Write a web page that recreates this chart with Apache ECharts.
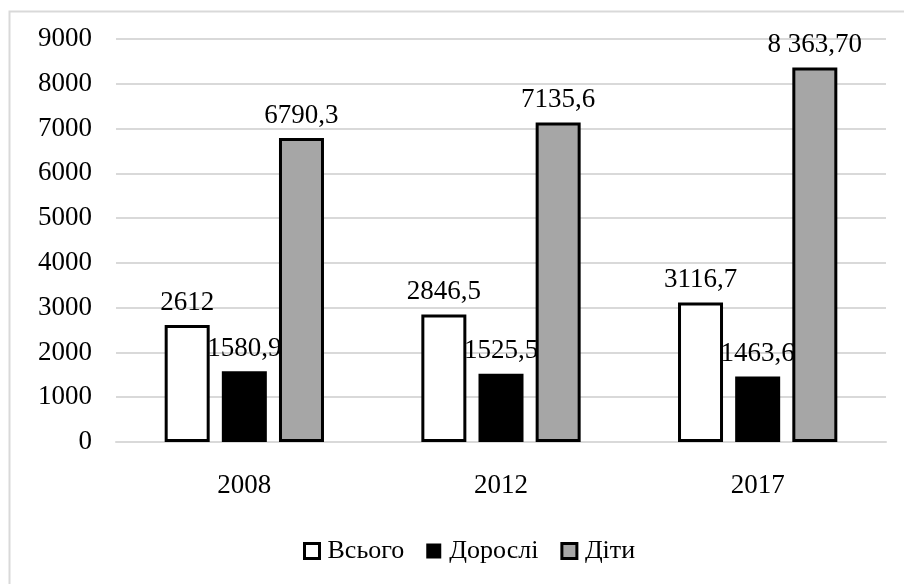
<!DOCTYPE html>
<html>
<head>
<meta charset="utf-8">
<script src="https://cdn.jsdelivr.net/npm/echarts@6/dist/echarts.min.js"></script>
<style>
  html, body { margin: 0; padding: 0; background: #fff; }
  #chart { width: 904px; height: 584px; }
</style>
</head>
<body>
<div id="chart"></div>
<script>
// Categories (years) and values for each group
const years = ['2008', '2012', '2017'];
const seriesNames = ['Всього', 'Дорослі', 'Діти'];
const totalValues = [2612, 2846.5, 3116.7];
const adultValues = [1580.9, 1525.5, 1463.6];
const childValues = [6790.3, 7135.6, 8363.7];
// Value labels as they are printed above the bars
const totalLabels = ['2612', '2846,5', '3116,7'];
const adultLabels = ['1580,9', '1525,5', '1463,6'];
const childLabels = ['6790,3', '7135,6', '8 363,70'];
const yTicks = [0, 1000, 2000, 3000, 4000, 5000, 6000, 7000, 8000, 9000];

const FONT = '"Liberation Serif", serif';
const chart = echarts.init(document.getElementById('chart'), null, { renderer: 'canvas' });

function barSeries(name, values, labels, fill, border) {
  return {
    name: name,
    type: 'bar',
    barWidth: 45,
    barGap: '27%',
    data: values,
    itemStyle: { color: fill, borderColor: border, borderWidth: 3 },
    label: {
      show: true,
      position: 'top',
      distance: 9,
      fontFamily: FONT,
      fontSize: 27,
      color: '#000',
      formatter: p => labels[p.dataIndex]
    }
  };
}

const legendText = { fontFamily: FONT, fontSize: 26, color: '#000', padding: [0, 0, 0, 3] };

chart.setOption({
  animation: false,
  backgroundColor: '#fff',
  graphic: [{
    type: 'rect',
    shape: { x: 9.5, y: 11.5, width: 910, height: 590 },
    style: { fill: 'none', stroke: '#d9d9d9', lineWidth: 2 },
    silent: true
  }],
  grid: { left: 116, right: 18, top: 39, bottom: 142, containLabel: false },
  legend: {
    bottom: 15,
    left: 298,
    itemWidth: 15,
    itemHeight: 15,
    itemGap: 22,
    icon: 'rect',
    textStyle: legendText,
    data: [
      { name: 'Всього', itemStyle: { color: '#fff', borderColor: '#000', borderWidth: 3 } },
      { name: 'Дорослі', itemStyle: { color: '#000', borderColor: '#000', borderWidth: 0 } },
      { name: 'Діти', itemStyle: { color: '#a6a6a6', borderColor: '#000', borderWidth: 3 } }
    ]
  },
  xAxis: {
    type: 'category',
    data: years,
    axisLine: { show: true, lineStyle: { color: '#d9d9d9', width: 2 } },
    axisTick: { show: false },
    axisLabel: { fontFamily: FONT, fontSize: 27, color: '#000', margin: 30 }
  },
  yAxis: {
    type: 'value',
    min: yTicks[0],
    max: yTicks[yTicks.length - 1],
    interval: 1000,
    axisLine: { show: false },
    axisTick: { show: false },
    splitLine: { lineStyle: { color: '#d9d9d9', width: 2 } },
    axisLabel: { fontFamily: FONT, fontSize: 27, color: '#000', margin: 24, formatter: v => String(v) }
  },
  series: [
    barSeries(seriesNames[0], totalValues, totalLabels, '#ffffff', '#000000'),
    barSeries(seriesNames[1], adultValues, adultLabels, '#000000', '#000000'),
    barSeries(seriesNames[2], childValues, childLabels, '#a6a6a6', '#000000')
  ]
});
</script>
</body>
</html>
